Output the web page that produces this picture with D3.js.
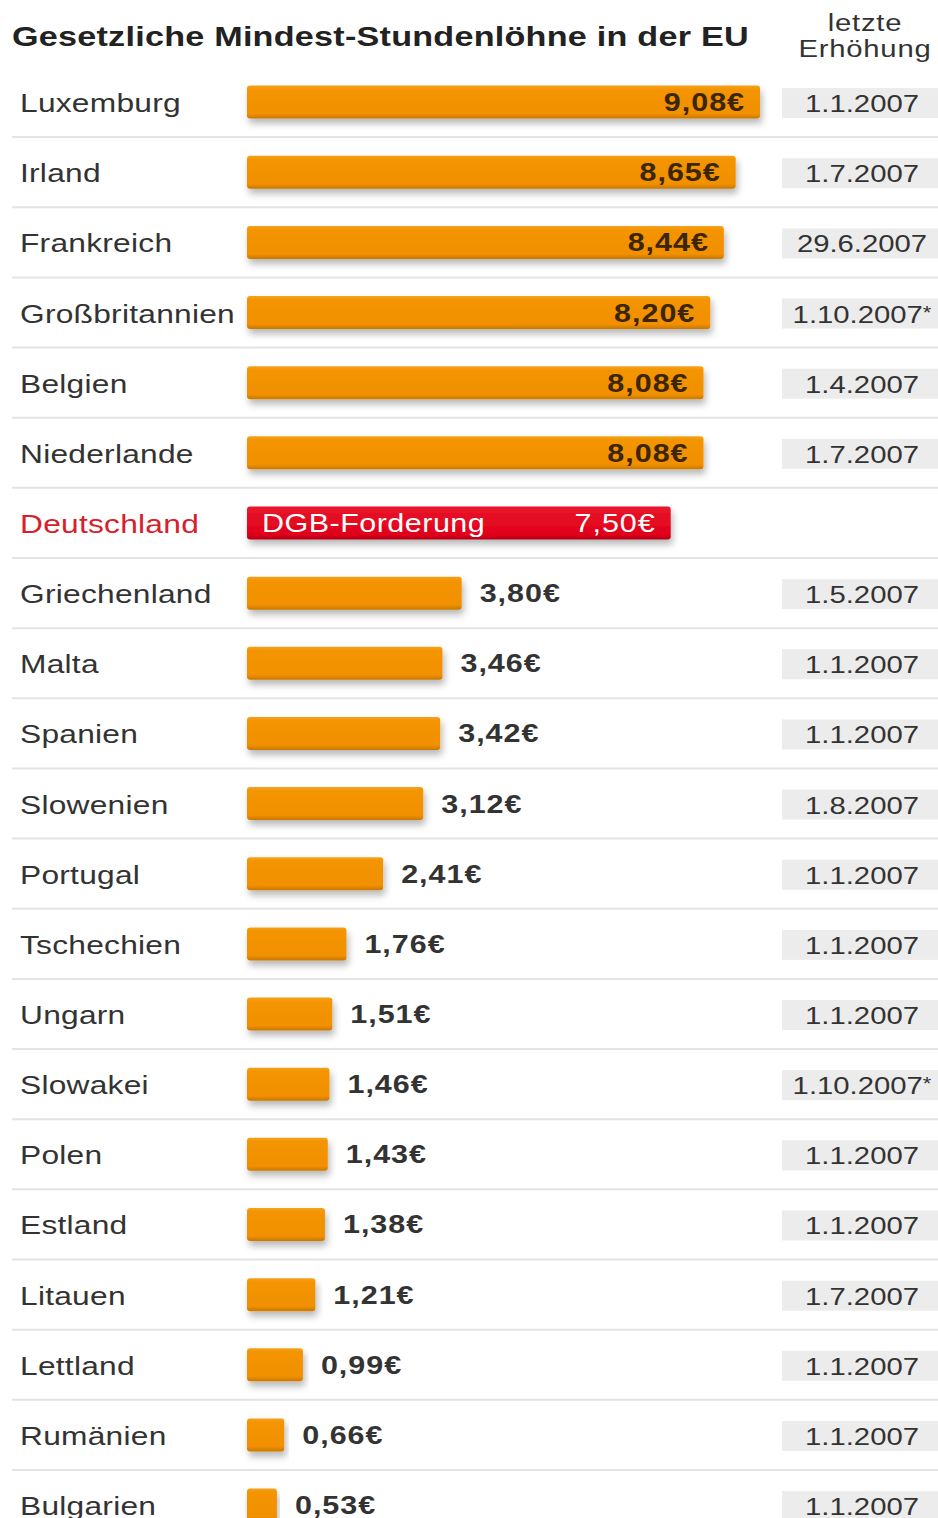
<!DOCTYPE html>
<html>
<head>
<meta charset="utf-8">
<script src="https://cdn.jsdelivr.net/npm/d3@7"></script>
<style>
  body { margin: 0; background: #fff; }
  text { font-family: "Liberation Sans", Arial, sans-serif; }
</style>
</head>
<body>
<div id="chart"></div>
<script>
const countries = ["Luxemburg", "Irland", "Frankreich", "Großbritannien", "Belgien", "Niederlande",
  "Deutschland", "Griechenland", "Malta", "Spanien", "Slowenien", "Portugal", "Tschechien",
  "Ungarn", "Slowakei", "Polen", "Estland", "Litauen", "Lettland", "Rumänien", "Bulgarien"];
const wages = [9.08, 8.65, 8.44, 8.20, 8.08, 8.08, 7.50, 3.80, 3.46, 3.42, 3.12, 2.41, 1.76,
  1.51, 1.46, 1.43, 1.38, 1.21, 0.99, 0.66, 0.53];
const lastRaise = ["1.1.2007", "1.7.2007", "29.6.2007", "1.10.2007*", "1.4.2007", "1.7.2007",
  "", "1.5.2007", "1.1.2007", "1.1.2007", "1.8.2007", "1.1.2007", "1.1.2007",
  "1.1.2007", "1.10.2007*", "1.1.2007", "1.1.2007", "1.7.2007", "1.1.2007", "1.1.2007", "1.1.2007"];
const highlight = "Deutschland";
const highlightNote = "DGB-Forderung";

(function() {
  const width = 938, height = 1518;
  const SX = 1.22; // horizontal stretch of the original lettering

  const rows = countries.map((c, i) => ({ country: c, wage: wages[i], date: lastRaise[i] }));

  const svg = d3.select("#chart").append("svg")
    .attr("width", width)
    .attr("height", height);

  const defs = svg.append("defs");
  const shadow = defs.append("filter").attr("id", "shadow")
    .attr("x", "-10%").attr("y", "-30%").attr("width", "120%").attr("height", "180%");
  shadow.append("feDropShadow")
    .attr("dx", 2).attr("dy", 5).attr("stdDeviation", 3.5)
    .attr("flood-color", "#000").attr("flood-opacity", 0.28);

  const grad = defs.append("linearGradient").attr("id", "orange")
    .attr("x1", 0).attr("y1", 0).attr("x2", 0).attr("y2", 1);
  grad.append("stop").attr("offset", "0%").attr("stop-color", "#f5a21e");
  grad.append("stop").attr("offset", "12%").attr("stop-color", "#f39400");
  grad.append("stop").attr("offset", "85%").attr("stop-color", "#f29000");
  grad.append("stop").attr("offset", "100%").attr("stop-color", "#c97800");

  const gradR = defs.append("linearGradient").attr("id", "red")
    .attr("x1", 0).attr("y1", 0).attr("x2", 0).attr("y2", 1);
  gradR.append("stop").attr("offset", "0%").attr("stop-color", "#e8172b");
  gradR.append("stop").attr("offset", "85%").attr("stop-color", "#e1001a");
  gradR.append("stop").attr("offset", "100%").attr("stop-color", "#b00014");

  const y = d3.scaleBand()
    .domain(countries)
    .range([67, 67 + countries.length * 70.15])
    .padding(0);

  const x = d3.scaleLinear()
    .domain([0, d3.max(wages)])
    .range([247, 760]);

  const fmt = v => d3.format(".2f")(v).replace(".", ",") + "€";
  const stretched = (sel, px, py) => sel.attr("transform", `translate(${px},${py}) scale(${SX},1)`);

  // title
  stretched(svg.append("text"), 12, 46)
    .attr("font-size", 28)
    .attr("font-weight", "bold")
    .attr("fill", "#222")
    .attr("letter-spacing", 0.2)
    .text("Gesetzliche Mindest-Stundenlöhne in der EU");

  const head = ["letzte", "Erhöhung"];
  head.forEach((t, i) => {
    stretched(svg.append("text"), 865, 31 + i * 26)
      .attr("font-size", 24)
      .attr("text-anchor", "middle")
      .attr("letter-spacing", 0.6)
      .attr("fill", "#333")
      .text(t);
  });

  const row = svg.selectAll(".row")
    .data(rows)
    .join("g")
    .attr("class", "row")
    .attr("transform", d => `translate(0,${y(d.country) + y.bandwidth() / 2})`);

  // separators
  row.filter((d, i) => i < rows.length - 1)
    .append("line")
    .attr("x1", 12).attr("x2", width)
    .attr("y1", 35).attr("y2", 35)
    .attr("stroke", "#e4e4e4")
    .attr("stroke-width", 2);

  // country labels
  row.append("text")
    .each(function(d) { stretched(d3.select(this), 20, 10); })
    .attr("font-size", 26)
    .attr("letter-spacing", 0.2)
    .attr("fill", d => d.country === highlight ? "#d8202a" : "#333")
    .text(d => d.country);

  // bars
  const barH = 33;
  row.append("rect")
    .attr("x", x(0))
    .attr("y", -barH / 2)
    .attr("width", d => x(d.wage) - x(0))
    .attr("height", barH)
    .attr("rx", 3)
    .attr("fill", d => d.country === highlight ? "url(#red)" : "url(#orange)")
    .attr("filter", "url(#shadow)");

  // value labels
  row.append("text")
    .each(function(d) {
      const inside = d.wage > 5;
      stretched(d3.select(this), inside ? x(d.wage) - 15 : x(d.wage) + 18, 9);
    })
    .attr("text-anchor", d => d.wage > 5 ? "end" : "start")
    .attr("font-size", 25)
    .attr("font-weight", d => d.country === highlight ? "normal" : "bold")
    .attr("letter-spacing", 0.8)
    .attr("fill", d => d.country === highlight ? "#fff" : (d.wage > 5 ? "#3b2600" : "#333"))
    .text(d => fmt(d.wage));

  // note inside the highlighted bar
  row.filter(d => d.country === highlight)
    .append("text")
    .each(function() { stretched(d3.select(this), 262, 9); })
    .attr("font-size", 25)
    .attr("letter-spacing", 0.4)
    .attr("fill", "#fff")
    .text(highlightNote);

  // date boxes
  const dated = row.filter(d => d.date !== "");
  dated.append("rect")
    .attr("x", 782)
    .attr("y", -14)
    .attr("width", width - 782)
    .attr("height", 30)
    .attr("fill", "#ececec");

  dated.append("text")
    .each(function(d) { stretched(d3.select(this), 862, 10); })
    .attr("text-anchor", "middle")
    .attr("font-size", 24)
    .attr("fill", "#333")
    .each(function(d) {
      const t = d3.select(this);
      const star = d.date.endsWith("*");
      t.append("tspan").text(star ? d.date.slice(0, -1) : d.date);
      if (star) {
        t.append("tspan").attr("font-size", 18).attr("dy", -4).text("*");
      }
    });
})();
</script>
</body>
</html>
